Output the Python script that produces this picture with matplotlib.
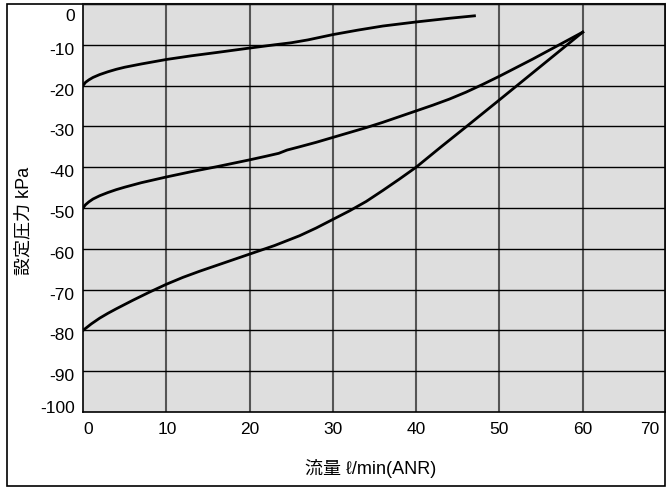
import matplotlib as mpl
mpl.use('Agg')
import matplotlib.pyplot as plt
from matplotlib.patches import Rectangle
from matplotlib.transforms import ScaledTranslation

# flow (l/min) and set pressure (kPa)
flow_top = [0, 0.3, 0.7, 1.2, 2, 3, 4, 5, 7, 10, 13, 16, 20, 23, 25, 27, 30, 33, 36, 40, 44, 47]
pres_top = [-20, -19.2, -18.6, -18.0, -17.3, -16.6, -16.0, -15.5, -14.7, -13.6, -12.7, -11.9, -10.8, -10.0, -9.5, -8.8, -7.5, -6.4, -5.4, -4.4, -3.5, -2.9]

flow_mid = [0, 0.3, 0.7, 1.2, 2, 3, 4, 5, 7, 10, 13, 16, 20, 22, 23.5, 24.5, 26, 28, 30, 32, 34, 36, 38, 40, 42, 44, 46, 48, 50, 52, 54, 56, 58, 60]
pres_mid = [-50, -49.2, -48.5, -47.8, -47.0, -46.2, -45.5, -44.9, -43.8, -42.4, -41.1, -39.9, -38.2, -37.3, -36.6, -35.8, -35.0, -33.9, -32.7, -31.5, -30.3, -29.0, -27.6, -26.2, -24.8, -23.3, -21.6, -19.7, -17.7, -15.6, -13.5, -11.3, -9.1, -6.9]

flow_bot = [0, 1, 2, 3, 4, 6, 8, 10, 12, 14, 16, 18, 20, 23, 26, 28, 30, 32, 34, 36, 38, 40, 43, 46, 50, 55, 60]
pres_bot = [-80, -78.4, -77.0, -75.8, -74.7, -72.6, -70.6, -68.7, -67.0, -65.5, -64.1, -62.7, -61.3, -59.2, -56.8, -54.9, -52.8, -50.7, -48.4, -45.7, -42.9, -40.0, -35.0, -30.1, -23.5, -15.2, -6.9]

xticks = list(range(0, 71, 10))
yticks = list(range(-100, 1, 10))

plt.rcParams['font.family'] = ['Liberation Sans', 'Noto Sans CJK JP', 'DejaVu Sans']

fig = plt.figure(figsize=(6.66, 4.87), dpi=100)
ax = fig.add_axes([83/666, 75/487, 583/666, 408/487])
ax.set_facecolor('#dedede')

ax.set_xlim(0, 70)
ax.set_ylim(-100, 0)
ax.set_xticks(xticks)
ax.set_yticks(yticks)
ax.set_xticklabels([str(v) for v in xticks])
ax.set_yticklabels([str(v) for v in yticks])
ax.tick_params(length=0, labelsize=12.5)
ax.tick_params(axis='y', pad=6)
ax.tick_params(axis='x', pad=7)

# nudge labels like the reference (pixels, +x right, +y up)
x_shift = {0: 5, 10: 1, 70: -16}
y_shift = {0: -11, -100: 5}
for v, lab in zip(xticks, ax.get_xticklabels()):
    dx = x_shift.get(v, 0)
    lab.set_transform(lab.get_transform() + ScaledTranslation(dx / 100, 0, fig.dpi_scale_trans))
for v, lab in zip(yticks, ax.get_yticklabels()):
    dy = y_shift.get(v, -4)
    lab.set_transform(lab.get_transform() + ScaledTranslation(0, dy / 100, fig.dpi_scale_trans))

for v in xticks[1:]:
    ax.axvline(v, color='#555555', lw=1.5, zorder=1)
for v in yticks[1:]:
    ax.axhline(v, color='black', lw=1.0, zorder=1)

for s in ['top', 'right']:
    ax.spines[s].set_color('#555555')
    ax.spines[s].set_linewidth(1.5)
for s in ['left', 'bottom']:
    ax.spines[s].set_color('black')
    ax.spines[s].set_linewidth(1.2)

ax.plot(flow_top, pres_top, color='black', lw=2, zorder=3)
ax.plot(flow_mid, pres_mid, color='black', lw=2, zorder=3)
ax.plot(flow_bot, pres_bot, color='black', lw=2, zorder=3)

fig.text(24/666, 1 - 221/487, '設定圧力 kPa', rotation=90, ha='center', va='center', fontsize=13)
fig.text(371/666, 1 - 469/487, '流量 ℓ/min(ANR)', ha='center', va='center', fontsize=13)

fig.patches.append(Rectangle((7/666, 1/487), 658/666, 482/487, transform=fig.transFigure,
                             fill=False, edgecolor='black', lw=1.2))

fig.savefig('out.png', dpi=100)
